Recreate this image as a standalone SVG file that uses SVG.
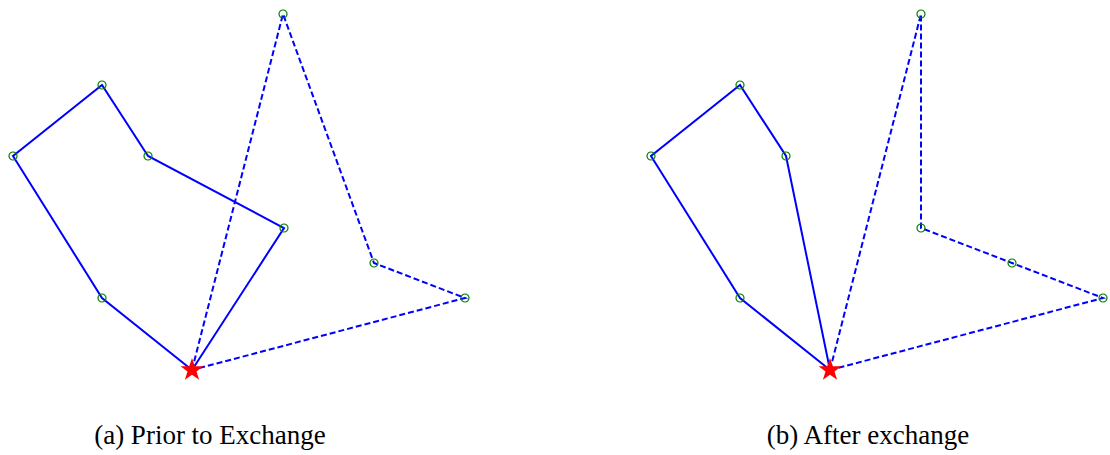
<svg xmlns="http://www.w3.org/2000/svg" width="1110" height="455" viewBox="0 0 1110 455">
<style>
.s{fill:none;stroke:#0000ff;stroke-width:2;stroke-linejoin:miter}
.d{fill:none;stroke:#0000ff;stroke-width:2;stroke-dasharray:6,3}
.n{fill:none;stroke:#008000;stroke-width:1.2}
.st{fill:#ff0000;stroke:none}
.cap{font-size:27px;fill:#000;text-anchor:middle}
</style>
<defs>
<polygon id="star" points="0,-12 2.8,-3.8 11.4,-3.7 4.5,1.4 7.1,9.7 0,4.7 -7.1,9.7 -4.5,1.4 -11.4,-3.7 -2.8,-3.8"/>
<circle id="node" r="4"/>
</defs>
<g id="connectors">
<polyline class="s" points="192,370 102,298 13,156 102,85 148,156 284,228 192,370"/>
<polyline class="d" points="192,370 283,14 374,263 465,298 192,370"/>
<polyline class="s" points="830,370 740,298 651,156 740,85 786,156 830,370"/>
<polyline class="d" points="830,370 921,14 921,228 1012,263 1103,298 830,370"/>
</g>
<g id="nodes-a">
<use href="#node" class="n" x="102" y="85"/>
<use href="#node" class="n" x="13" y="156"/>
<use href="#node" class="n" x="148" y="156"/>
<use href="#node" class="n" x="284" y="228"/>
<use href="#node" class="n" x="102" y="298"/>
<use href="#node" class="n" x="283" y="14"/>
<use href="#node" class="n" x="374" y="263"/>
<use href="#node" class="n" x="465" y="298"/>
<use id="depot-a" href="#star" class="st" x="192" y="370"/>
</g>
<g id="nodes-b">
<use href="#node" class="n" x="740" y="85"/>
<use href="#node" class="n" x="651" y="156"/>
<use href="#node" class="n" x="786" y="156"/>
<use href="#node" class="n" x="921" y="14"/>
<use href="#node" class="n" x="921" y="228"/>
<use href="#node" class="n" x="1012" y="263"/>
<use href="#node" class="n" x="1103" y="298"/>
<use href="#node" class="n" x="740" y="298"/>
<use id="depot-b" href="#star" class="st" x="830" y="370"/>
</g>
<g id="captions" font-family="'Liberation Serif', 'Times New Roman', serif">
<text class="cap" x="210" y="444">(a) Prior to Exchange</text>
<text class="cap" x="868" y="444">(b) After exchange</text>
</g>
</svg>
